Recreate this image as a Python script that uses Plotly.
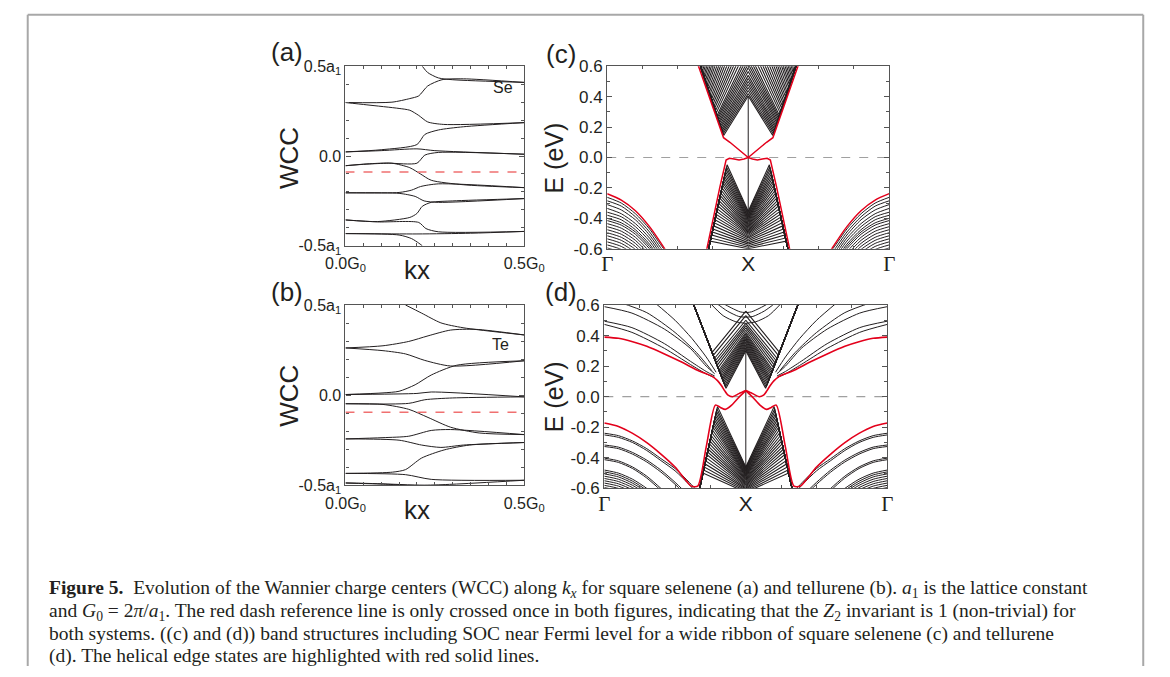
import plotly.graph_objects as go

W, H = 1170, 677
def px(x): return x / W
def py(y): return 1 - y / H

# ---------------- (a) square selenene: WCC vs kx ----------------
se_k = [
    [0, 0.13, 0.18, 0.205, 0.23, 0.27, 0.33, 0.5],
    [0.215, 0.23, 0.26, 0.30, 0.5],
    [0, 0.15, 0.185, 0.205, 0.215],
    [0, 0.06, 0.15, 0.18, 0.205, 0.23, 0.275, 0.5],
    [0, 0.1, 0.2, 0.222, 0.26, 0.33, 0.5],
    [0, 0.1, 0.2, 0.25, 0.5],
    [0, 0.06, 0.12, 0.2, 0.222, 0.26, 0.5],
    [0, 0.06, 0.13, 0.18, 0.21, 0.24, 0.33, 0.5],
    [0, 0.15, 0.185, 0.21, 0.26, 0.5],
    [0, 0.15, 0.195, 0.22, 0.26, 0.5],
    [0, 0.09, 0.18, 0.2, 0.215, 0.24, 0.3, 0.5],
    [0, 0.09, 0.205, 0.225, 0.26, 0.5],
    [0, 0.2, 0.35, 0.5],
]
se_wcc = [
    [0.298, 0.30, 0.32, 0.335, 0.39, 0.425, 0.43, 0.41],
    [0.5, 0.465, 0.435, 0.425, 0.41],
    [-0.432, -0.44, -0.46, -0.485, -0.5],
    [0.298, 0.285, 0.265, 0.255, 0.226, 0.19, 0.176, 0.186],
    [0.023, 0.035, 0.064, 0.12, 0.145, 0.163, 0.186],
    [0.023, 0.03, 0.04, 0.03, 0.01],
    [-0.054, -0.045, -0.04, -0.04, 0.005, 0.02, 0.01],
    [-0.054, -0.044, -0.04, -0.065, -0.1, -0.135, -0.16, -0.176],
    [-0.205, -0.203, -0.19, -0.17, -0.155, -0.176],
    [-0.205, -0.208, -0.225, -0.25, -0.258, -0.237],
    [-0.356, -0.365, -0.342, -0.32, -0.28, -0.258, -0.25, -0.237],
    [-0.356, -0.367, -0.37, -0.404, -0.422, -0.42],
    [-0.432, -0.434, -0.43, -0.42],
]
se_ref = -0.089

# ---------------- (b) square tellurene: WCC vs kx ----------------
te_k = [
    [0, 0.105, 0.177, 0.231, 0.294, 0.365, 0.5],
    [0.168, 0.213, 0.267, 0.329, 0.5],
    [0, 0.105, 0.168, 0.222, 0.294, 0.5],
    [0, 0.105, 0.15, 0.195, 0.24, 0.311, 0.5],
    [0, 0.2, 0.24, 0.5],
    [0, 0.177, 0.222, 0.3, 0.5],
    [0, 0.105, 0.177, 0.231, 0.294, 0.374, 0.5],
    [0, 0.105, 0.177, 0.24, 0.294, 0.5],
    [0, 0.15, 0.213, 0.267, 0.33, 0.5],
    [0, 0.132, 0.168, 0.213, 0.276, 0.347, 0.5],
    [0, 0.168, 0.24, 0.5],
    [0, 0.09, 0.22, 0.3, 0.5],
    [0, 0.1, 0.15, 0.168],
]
te_wcc = [
    [0.262, 0.274, 0.298, 0.329, 0.361, 0.365, 0.334],
    [0.5, 0.455, 0.401, 0.374, 0.334],
    [0.262, 0.247, 0.229, 0.193, 0.162, 0.191],
    [0.004, 0.013, 0.022, 0.058, 0.112, 0.166, 0.191],
    [0.004, 0.01, 0.018, -0.009],
    [-0.047, -0.045, -0.025, -0.015, -0.009],
    [-0.047, -0.051, -0.078, -0.123, -0.177, -0.209, -0.218],
    [-0.242, -0.235, -0.227, -0.195, -0.19, -0.218],
    [-0.242, -0.249, -0.276, -0.289, -0.276, -0.262],
    [-0.433, -0.426, -0.412, -0.348, -0.303, -0.276, -0.262],
    [-0.433, -0.44, -0.466, -0.471],
    [-0.485, -0.49, -0.498, -0.493, -0.471],
    [-0.487, -0.492, -0.497, -0.5],
]
te_ref = -0.094

# ---------------- (c) selenene ribbon bands (Gamma -> X half, mirrored about X) ----------------
c_gam_k = [0, 0.1, 0.2, 0.3, 0.4, 0.5]
c_gam_red = [-0.238, -0.28, -0.35, -0.455, -0.59, -0.74]
c_gam_black = [
    [-0.262, -0.30, -0.37, -0.47, -0.60, -0.70],
    [-0.285, -0.32, -0.39, -0.49, -0.62, -0.72],
    [-0.31, -0.345, -0.41, -0.51, -0.64, -0.74],
    [-0.335, -0.37, -0.435, -0.53, -0.66, -0.76],
    [-0.36, -0.39, -0.455, -0.55, -0.68, -0.78],
    [-0.38, -0.41, -0.475, -0.57, -0.70, -0.80],
    [-0.40, -0.43, -0.49, -0.585, -0.71, -0.81],
    [-0.415, -0.445, -0.505, -0.60, -0.72, -0.82],
    [-0.435, -0.465, -0.525, -0.62, -0.74, -0.84],
    [-0.455, -0.485, -0.545, -0.64, -0.76, -0.86],
    [-0.475, -0.505, -0.565, -0.66, -0.78, -0.88],
    [-0.495, -0.525, -0.585, -0.68, -0.80, -0.90],
    [-0.515, -0.545, -0.605, -0.70, -0.82, -0.92],
    [-0.535, -0.565, -0.625, -0.72, -0.84, -0.94],
    [-0.555, -0.585, -0.645, -0.74, -0.86, -0.96],
    [-0.575, -0.605, -0.665, -0.76, -0.88, -0.98],
    [-0.595, -0.625, -0.685, -0.78, -0.90, -1.0],
]
c_cb_red_k = [0.64, 0.728, 0.786, 0.825, 0.87, 0.92, 0.96, 1.0]
c_cb_red_E = [0.62, 0.393, 0.235, 0.13, 0.10, 0.06, 0.03, 0.0]
c_vb_red_k = [0.70, 0.75, 0.80, 0.843, 0.866, 0.90, 0.935, 0.97, 1.0]
c_vb_red_E = [-0.63, -0.40, -0.19, -0.017, -0.005, -0.01, -0.017, -0.01, 0.0]
c_cbfan_top_k = 0.655
c_cbfan_min_k = [0.826, 0.822, 0.819, 0.815, 0.811, 0.807, 0.804, 0.800, 0.796, 0.793, 0.789, 0.785,
                 0.782, 0.778, 0.772, 0.767, 0.761, 0.756, 0.750, 0.745, 0.739, 0.734, 0.728, 0.723,
                 0.717, 0.711, 0.706, 0.700, 0.695, 0.689, 0.684, 0.678, 0.673, 0.667]
c_cbfan_min_E = [0.145, 0.155, 0.165, 0.175, 0.185, 0.195, 0.205, 0.215, 0.225, 0.235, 0.245, 0.255,
                 0.265, 0.275, 0.29, 0.305, 0.32, 0.335, 0.35, 0.365, 0.38, 0.395, 0.41, 0.425,
                 0.44, 0.455, 0.47, 0.485, 0.50, 0.515, 0.53, 0.545, 0.56, 0.575]
c_cbfan_X_E = [0.404, 0.42, 0.44, 0.46, 0.48, 0.50, 0.52, 0.54, 0.565, 0.59, 0.615, 0.64,
               0.67, 0.70, 0.74, 0.78, 0.82, 0.86, 0.90, 0.95, 1.0, 1.05, 1.10, 1.15,
               1.2, 1.26, 1.32, 1.38, 1.44, 1.5, 1.56, 1.62, 1.68, 1.74]
c_vbfan_bot_k = 0.714
c_vbfan_peak_k = [0.85, 0.846, 0.843, 0.839, 0.836, 0.832, 0.829, 0.825, 0.822, 0.818,
                  0.814, 0.810, 0.806, 0.802, 0.798, 0.794, 0.790, 0.786, 0.781, 0.777,
                  0.773, 0.768, 0.764, 0.759, 0.755, 0.750, 0.745, 0.741, 0.736, 0.731]
c_vbfan_peak_E = [-0.048, -0.063, -0.078, -0.093, -0.108, -0.123, -0.138, -0.153, -0.168, -0.183,
                  -0.2, -0.217, -0.234, -0.251, -0.268, -0.285, -0.302, -0.32, -0.338, -0.356,
                  -0.374, -0.392, -0.41, -0.43, -0.45, -0.47, -0.49, -0.51, -0.53, -0.55]
c_vbfan_X_E = [-0.354, -0.362, -0.37, -0.378, -0.386, -0.394, -0.402, -0.41, -0.418, -0.426,
               -0.434, -0.442, -0.45, -0.458, -0.466, -0.474, -0.482, -0.49, -0.498, -0.506,
               -0.514, -0.522, -0.53, -0.54, -0.55, -0.56, -0.57, -0.58, -0.59, -0.60]
c_X_line = [0.404, -0.354]

# ---------------- (d) tellurene ribbon bands ----------------
d_gam_k = [0, 0.1, 0.2, 0.3, 0.4, 0.5, 0.6, 0.7]
d_gam_black = [
    [-0.239, -0.255, -0.29, -0.34, -0.405, -0.47, -0.56, -0.66],
    [-0.25, -0.266, -0.30, -0.352, -0.418, -0.485, -0.575, -0.68],
    [-0.316, -0.33, -0.365, -0.415, -0.48, -0.56, -0.65, -0.75],
    [-0.326, -0.34, -0.376, -0.427, -0.493, -0.573, -0.665, -0.77],
    [-0.402, -0.42, -0.46, -0.52, -0.60, -0.69, -0.79, -0.90],
    [-0.412, -0.43, -0.47, -0.532, -0.613, -0.70, -0.80, -0.91],
    [-0.48, -0.50, -0.54, -0.60, -0.68, -0.77, -0.87, -0.97],
    [-0.492, -0.512, -0.553, -0.613, -0.693, -0.783, -0.88, -0.98],
    [-0.505, -0.525, -0.566, -0.626, -0.706, -0.796, -0.89, -0.99],
    [-0.52, -0.54, -0.58, -0.64, -0.72, -0.81, -0.91, -1.0],
    [-0.535, -0.555, -0.595, -0.655, -0.735, -0.825, -0.92, -1.02],
    [-0.55, -0.57, -0.61, -0.67, -0.75, -0.84, -0.94, -1.04],
    [-0.565, -0.585, -0.625, -0.685, -0.765, -0.855, -0.95, -1.05],
    [-0.58, -0.60, -0.64, -0.70, -0.78, -0.87, -0.97, -1.07],
    [-0.595, -0.615, -0.655, -0.715, -0.795, -0.885, -0.98, -1.08],
]
d_up_k = [
    [0, 0.195, 0.425, 0.608, 0.72, 0.78],
    [0, 0.195, 0.425, 0.608, 0.72, 0.78],
    [0, 0.195, 0.425, 0.608, 0.723, 0.78],
    [0.1, 0.3, 0.5, 0.65, 0.76],
    [0.35, 0.5, 0.62, 0.72, 0.79],
    [0.74, 0.84, 0.93, 1.0],
    [0.78, 0.87, 0.95, 1.0],
    [0.82, 0.90, 0.96, 1.0],
]
d_up_E = [
    [0.589, 0.547, 0.442, 0.316, 0.20, 0.15],
    [0.494, 0.452, 0.347, 0.232, 0.165, 0.135],
    [0.473, 0.421, 0.316, 0.211, 0.148, 0.125],
    [0.62, 0.55, 0.42, 0.29, 0.17],
    [0.62, 0.50, 0.38, 0.26, 0.16],
    [0.62, 0.53, 0.49, 0.48],
    [0.62, 0.56, 0.525, 0.52],
    [0.62, 0.58, 0.555, 0.55],
]
d_cb_red_k = [0, 0.1, 0.2, 0.3, 0.425, 0.55, 0.654, 0.72, 0.768, 0.80, 0.826, 0.85, 0.872, 0.906, 0.952, 1.0]
d_cb_red_E = [0.39, 0.382, 0.36, 0.33, 0.28, 0.225, 0.175, 0.15, 0.13, 0.105, 0.075, 0.04, 0.012, 0.0, 0.02, 0.04]
d_vb_red_k = [0, 0.1, 0.2, 0.3, 0.4, 0.5, 0.57, 0.615, 0.66, 0.72, 0.785, 0.82, 0.855, 0.9, 0.95, 1.0]
d_vb_red_E = [-0.172, -0.195, -0.24, -0.30, -0.375, -0.46, -0.54, -0.585, -0.585, -0.33, -0.055, -0.07, -0.083, -0.055, -0.005, 0.04]
d_wfan_top_k = 0.624
d_wfan_min_k = [0.86, 0.856, 0.852, 0.847, 0.843, 0.839, 0.835, 0.831, 0.827, 0.822,
                0.818, 0.814, 0.81, 0.804, 0.797, 0.791, 0.785, 0.778, 0.77, 0.762]
d_wfan_min_E = [0.055, 0.065, 0.075, 0.085, 0.095, 0.105, 0.115, 0.125, 0.135, 0.145,
                0.155, 0.165, 0.175, 0.19, 0.205, 0.22, 0.235, 0.25, 0.27, 0.29]
d_wfan_X_E = [0.30, 0.31, 0.32, 0.33, 0.34, 0.35, 0.36, 0.37, 0.38, 0.39,
              0.40, 0.41, 0.42, 0.435, 0.45, 0.465, 0.48, 0.50, 0.53, 0.56]
d_vbfan_bot_k = 0.669
d_vbfan_peak_k = [0.80, 0.796, 0.793, 0.789, 0.786, 0.782, 0.779, 0.775, 0.772, 0.768, 0.764, 0.760, 0.755,
                  0.751, 0.747, 0.743, 0.738, 0.734, 0.730, 0.726, 0.721, 0.716, 0.712, 0.707, 0.702, 0.697]
d_vbfan_peak_E = [-0.065, -0.08, -0.095, -0.11, -0.125, -0.14, -0.155, -0.17, -0.185, -0.2, -0.218, -0.236, -0.254,
                  -0.272, -0.29, -0.308, -0.326, -0.344, -0.362, -0.38, -0.40, -0.42, -0.44, -0.46, -0.48, -0.50]
d_vbfan_X_E = [-0.46, -0.466, -0.472, -0.478, -0.484, -0.49, -0.496, -0.502, -0.508, -0.514, -0.52, -0.527, -0.534,
               -0.541, -0.548, -0.555, -0.562, -0.569, -0.576, -0.583, -0.59, -0.597, -0.604, -0.611, -0.618, -0.625]
d_X_line = [0.30, -0.46]

fan_edge_top = 0.62
fan_edge_bot = -0.62

INK = '#231f20'
RED = '#e3001b'
SANS = 'Liberation Sans'
SERIF = 'Liberation Serif'

fig = go.Figure()

def joined(segs):
    xs, ys = [], []
    for sx, sy in segs:
        xs += list(sx) + [None]
        ys += list(sy) + [None]
    return xs, ys

def mirrored(segs):
    out = []
    for sx, sy in segs:
        out.append((sx, sy))
        out.append(([2 - v for v in sx], sy))
    return out

def add(segs, xa, ya, color, width, shape='spline', dash=None):
    xs, ys = joined(segs)
    fig.add_trace(go.Scatter(x=xs, y=ys, mode='lines', xaxis=xa, yaxis=ya,
                             line=dict(color=color, width=width, shape=shape, smoothing=0.7, dash=dash),
                             hoverinfo='skip', showlegend=False))

# (a), (b)
add(list(zip(se_k, se_wcc)), 'x', 'y', INK, 1.0)
add([([0, 0.5], [se_ref, se_ref])], 'x', 'y', '#f07070', 1.6, 'linear', 'dash')
add(list(zip(te_k, te_wcc)), 'x2', 'y2', INK, 1.0)
add([([0, 0.5], [te_ref, te_ref])], 'x2', 'y2', '#f07070', 1.6, 'linear', 'dash')

# (c)
segs = [(c_gam_k, row) for row in c_gam_black]
add(mirrored(segs), 'x3', 'y3', INK, 1.0)
segs = [([c_cbfan_top_k, m, 1.0], [fan_edge_top, e, ex]) for m, e, ex in zip(c_cbfan_min_k, c_cbfan_min_E, c_cbfan_X_E)]
segs += [([c_vbfan_bot_k, p, 1.0], [fan_edge_bot, e, ex]) for p, e, ex in zip(c_vbfan_peak_k, c_vbfan_peak_E, c_vbfan_X_E)]
add(mirrored(segs), 'x3', 'y3', INK, 1.1, 'linear')
add([([1, 1], c_X_line)], 'x3', 'y3', INK, 1.0, 'linear')
add([([0, 2], [0, 0])], 'x3', 'y3', '#a0a0a0', 1.2, 'linear', 'dash')
add(mirrored([(c_gam_k, c_gam_red)]), 'x3', 'y3', RED, 1.5)
add(mirrored([(c_cb_red_k, c_cb_red_E), (c_vb_red_k, c_vb_red_E)]), 'x3', 'y3', RED, 1.5, 'linear')

# (d)
segs = [(d_gam_k, row) for row in d_gam_black] + list(zip(d_up_k, d_up_E))
add(mirrored(segs), 'x4', 'y4', INK, 1.0)
segs = [([d_wfan_top_k, m, 1.0], [fan_edge_top, e, ex]) for m, e, ex in zip(d_wfan_min_k, d_wfan_min_E, d_wfan_X_E)]
segs += [([d_vbfan_bot_k, p, 1.0], [fan_edge_bot, e, ex]) for p, e, ex in zip(d_vbfan_peak_k, d_vbfan_peak_E, d_vbfan_X_E)]
add(mirrored(segs), 'x4', 'y4', INK, 1.1, 'linear')
add([([1, 1], d_X_line)], 'x4', 'y4', INK, 1.0, 'linear')
add([([0, 2], [0, 0])], 'x4', 'y4', '#a0a0a0', 1.2, 'linear', 'dash')
add(mirrored([(d_cb_red_k, d_cb_red_E), (d_vb_red_k, d_vb_red_E)]), 'x4', 'y4', RED, 1.6)

# ---------------- axes ----------------
frame = dict(showline=True, linecolor='#555', linewidth=1.2, mirror='ticks', ticks='inside',
             tickcolor='#555', ticklen=5, showgrid=False, zeroline=False, fixedrange=True)

def wcc_axes(n, dom_x, dom_y):
    sfx = '' if n == 1 else str(n)
    xa = dict(frame, domain=dom_x, range=[0, 0.5], tickmode='array', tickvals=[0, 0.5],
              ticktext=['0.0G<sub>0</sub>', '0.5G<sub>0</sub>'], ticklabelstandoff=3,
              tickfont=dict(family=SANS, size=16, color=INK),
              minor=dict(tickmode='linear', tick0=0, dtick=0.05, ticks='inside', ticklen=3, tickcolor='#555'),
              anchor='y' + sfx)
    ya = dict(frame, domain=dom_y, range=[-0.5, 0.5], tickmode='array', tickvals=[-0.5, 0, 0.5],
              ticktext=['-0.5a<sub>1</sub>', '0.0', '0.5a<sub>1</sub>'],
              tickfont=dict(family=SANS, size=16, color=INK),
              minor=dict(tickmode='linear', tick0=0, dtick=0.1, ticks='inside', ticklen=3, tickcolor='#555'),
              anchor='x' + sfx)
    return xa, ya

def band_axes(n, dom_x, dom_y):
    sfx = str(n)
    g = '<span style="font-family:Liberation Serif">Γ</span>'
    xa = dict(frame, domain=dom_x, range=[0, 2], tickmode='array', tickvals=[0, 1, 2],
              ticktext=[g, 'X', g], ticklen=0, ticklabelstandoff=-4,
              tickfont=dict(family=SANS, size=21, color=INK),
              minor=dict(tickmode='linear', tick0=0, dtick=0.25, ticks='inside', ticklen=3, tickcolor='#555'),
              anchor='y' + sfx)
    ya = dict(frame, domain=dom_y, range=[-0.6, 0.6], tickmode='array',
              tickvals=[-0.6, -0.4, -0.2, 0, 0.2, 0.4, 0.6],
              ticktext=['-0.6', '-0.4', '-0.2', '0.0', '0.2', '0.4', '0.6'],
              tickfont=dict(family=SANS, size=17, color=INK),
              minor=dict(tickmode='linear', tick0=0, dtick=0.1, ticks='inside', ticklen=3, tickcolor='#555'),
              anchor='x' + sfx)
    return xa, ya

xa1, ya1 = wcc_axes(1, [px(337), px(522)], [py(244), py(59)])
xa2, ya2 = wcc_axes(2, [px(337), px(522)], [py(491), py(305)])
xa3, ya3 = band_axes(3, [px(608), px(900)], [py(247), py(59)])
xa4, ya4 = band_axes(4, [px(605), px(898)], [py(494), py(305)])

ann = []
def text(x, y, s, size, family=SANS, angle=0, xanchor='center'):
    ann.append(dict(x=px(x), y=py(y), xref='paper', yref='paper', text=s, showarrow=False,
                    font=dict(family=family, size=size, color=INK), textangle=angle,
                    xanchor=xanchor, yanchor='middle'))

text(276, 44, '(a)', 26)
text(276, 292, '(b)', 26)
text(560, 46, '(c)', 26)
text(560, 292, '(d)', 26)
text(279, 153, 'WCC', 26, angle=-90)
text(279, 398, 'WCC', 26, angle=-90)
text(553, 154, 'E (eV)', 25, angle=-90)
text(553, 400, 'E (eV)', 25, angle=-90)
text(411, 269, 'kx', 26)
text(411, 516, 'kx', 26)
ann.append(dict(x=0.44, y=0.38, xref='x', yref='y', text='Se', showarrow=False,
                font=dict(family=SANS, size=16, color=INK)))
ann.append(dict(x=0.435, y=0.28, xref='x2', yref='y2', text='Te', showarrow=False,
                font=dict(family=SANS, size=16, color=INK)))

cap = [
    '<b>Figure 5.</b>  Evolution of the Wannier charge centers (WCC) along <i>k<sub>x</sub></i> for square selenene (a) and tellurene (b). <i>a</i><sub>1</sub> is the lattice constant',
    'and <i>G</i><sub>0</sub> = 2<i>π</i>/<i>a</i><sub>1</sub>. The red dash reference line is only crossed once in both figures, indicating that the <i>Z</i><sub>2</sub> invariant is 1 (non-trivial) for',
    'both systems. ((c) and (d)) band structures including SOC near Fermi level for a wide ribbon of square selenene (c) and tellurene',
    '(d). The helical edge states are highlighted with red solid lines.',
]
for i, line in enumerate(cap):
    text(28, 598 + 23 * i, line, 19.5, family=SERIF, xanchor='left')

border = '#a8a8a8'
shapes = [
    dict(type='line', xref='paper', yref='paper', x0=px(8), x1=px(8), y0=py(6), y1=0, line=dict(color=border, width=2)),
    dict(type='line', xref='paper', yref='paper', x0=px(8), x1=px(1163), y0=py(6), y1=py(6), line=dict(color=border, width=2)),
    dict(type='line', xref='paper', yref='paper', x0=px(1163), x1=px(1163), y0=py(6), y1=0, line=dict(color=border, width=2)),
]

fig.update_layout(
    width=W, height=H, margin=dict(l=0, r=0, t=0, b=0),
    paper_bgcolor='white', plot_bgcolor='white',
    xaxis=xa1, yaxis=ya1, xaxis2=xa2, yaxis2=ya2,
    xaxis3=xa3, yaxis3=ya3, xaxis4=xa4, yaxis4=ya4,
    annotations=ann, shapes=shapes, showlegend=False,
)

fig.write_html('out.html', config={'displayModeBar': False})
